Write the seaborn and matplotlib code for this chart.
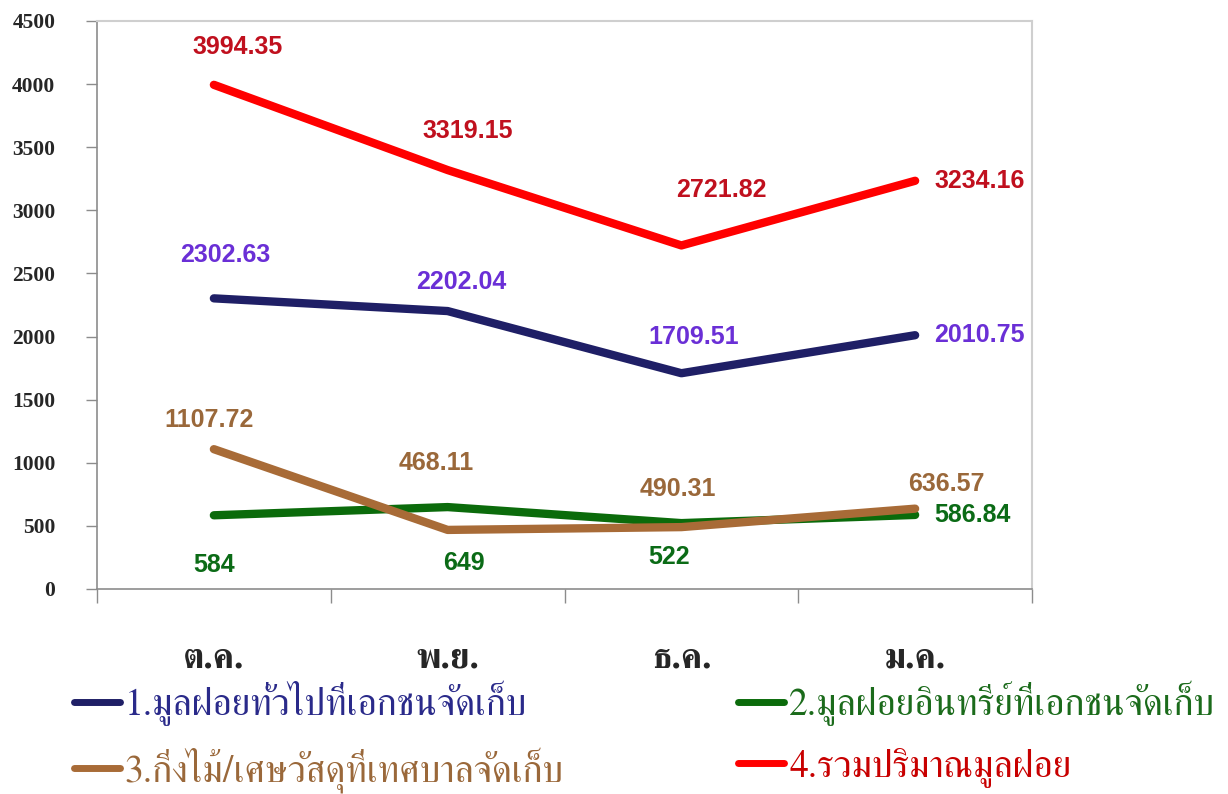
# Graphique : quantités de déchets collectés (ต.ค. -> ม.ค.)
import matplotlib
matplotlib.use('Agg')
import matplotlib.pyplot as plt
import seaborn as sns
import pandas as pd

# -----------------------------------------------------------------------------
# Données
# -----------------------------------------------------------------------------
months = ['ต.ค.', 'พ.ย.', 'ธ.ค.', 'ม.ค.']
series_names = [
    '1.มูลฝอยทั่วไปที่เอกชนจัดเก็บ',
    '2.มูลฝอยอินทรีย์ที่เอกชนจัดเก็บ',
    '3.กิ่งไม้/เศษวัสดุที่เทศบาลจัดเก็บ',
    '4.รวมปริมาณมูลฝอย',
]
general_private = [2302.63, 2202.04, 1709.51, 2010.75]
organic_private = [584, 649, 522, 586.84]
branches_muni = [1107.72, 468.11, 490.31, 636.57]
total_waste = [3994.35, 3319.15, 2721.82, 3234.16]
value_labels = [
    ['2302.63', '2202.04', '1709.51', '2010.75'],
    ['584', '649', '522', '586.84'],
    ['1107.72', '468.11', '490.31', '636.57'],
    ['3994.35', '3319.15', '2721.82', '3234.16'],
]
y_ticks = [0, 500, 1000, 1500, 2000, 2500, 3000, 3500, 4000, 4500]

# -----------------------------------------------------------------------------
# Styles
# -----------------------------------------------------------------------------
line_colors = ['#1f1f66', '#0b6b0b', '#a86b37', '#ff0000']
label_colors = ['#6a2fd6', '#0b6b16', '#9a683a', '#c0101e']
legend_colors = ['#2a2a8a', '#1b6b1b', '#9a683a', '#c80000']

# décalage des étiquettes en pixels (dx, dy, alignement horizontal)
label_offsets = [
    [(11, 43, 'center'), (14, 29, 'center'), (12, 36, 'center'), (19, 0, 'left')],
    [(0, -50, 'center'), (16, -56, 'center'), (-12, -34, 'center'), (19, 0, 'left')],
    [(-5, 29, 'center'), (-11, 67, 'center'), (-4, 38, 'center'), (31, 25, 'center')],
    [(24, 38, 'center'), (20, 39, 'center'), (40, 55, 'center'), (19, 0, 'left')],
]

sns.set_theme(style='white')
plt.rcParams['font.family'] = ['FreeSerif', 'DejaVu Sans']

all_values = [general_private, organic_private, branches_muni, total_waste]
df = pd.DataFrame({
    'mois': months * 4,
    'serie': [name for name in series_names for _ in months],
    'valeur': [v for vals in all_values for v in vals],
})

fig = plt.figure(figsize=(12.28, 7.94), dpi=100)
ax = fig.add_axes([97 / 1228, 1 - 589 / 794, 935 / 1228, 568 / 794])

sns.lineplot(data=df, x='mois', y='valeur', hue='serie', hue_order=series_names,
             palette=dict(zip(series_names, line_colors)), linewidth=6,
             solid_capstyle='round', legend=False, ax=ax, sort=False)

# étiquettes de valeurs
for s, vals in enumerate(all_values):
    for i, v in enumerate(vals):
        dx, dy, ha = label_offsets[s][i]
        ax.annotate(value_labels[s][i], (i, v), xytext=(dx, dy),
                    textcoords='offset pixels', ha=ha, va='center',
                    fontsize=18, fontweight='bold', color=label_colors[s],
                    family=['Liberation Sans', 'DejaVu Sans'])

# axes
ax.set_xlim(-0.5, 3.5)
ax.set_ylim(0, 4500)
ax.set_yticks(y_ticks)
ax.set_yticklabels([str(t) for t in y_ticks], fontsize=15.5, fontweight='bold',
                   family=['Liberation Serif', 'DejaVu Serif'])
ax.tick_params(axis='y', direction='out', length=8, width=1, color='#8c8c8c',
               pad=22, left=True)

ax.set_xticks([-0.5, 0.5, 1.5, 2.5, 3.5])
ax.set_xticklabels([])
ax.set_xticks(range(len(months)), minor=True)
ax.set_xticklabels(months, minor=True, fontsize=26, fontweight='bold')
ax.tick_params(axis='x', which='major', direction='out', length=10, width=1,
               color='#8c8c8c', bottom=True)
ax.tick_params(axis='x', which='minor', length=0, pad=39)
ax.set_xlabel('')
ax.set_ylabel('')

for side in ['left', 'bottom']:
    ax.spines[side].set_color('#8c8c8c')
    ax.spines[side].set_linewidth(1.2)
for side in ['top', 'right']:
    ax.spines[side].set_visible(True)
    ax.spines[side].set_color('#cfcfcf')
    ax.spines[side].set_linewidth(1.5)

# légende (ordre 1,2 / 3,4 en deux colonnes)
lines = ax.get_lines()[:4]
order = [0, 2, 1, 3]
leg = fig.legend([lines[k] for k in order], [series_names[k] for k in order],
                 ncol=2, loc='upper left', bbox_to_anchor=(40 / 1228, 1 - 647 / 794),
                 frameon=False, fontsize=27, handlelength=1.23, handletextpad=0.13,
                 columnspacing=4.65, labelspacing=0.55)
for text, k in zip(leg.get_texts(), order):
    text.set_color(legend_colors[k])
for h in leg.legend_handles:
    h.set_linewidth(5)
    h.set_solid_capstyle('round')

fig.savefig('out.png', dpi=100)
plt.close()
